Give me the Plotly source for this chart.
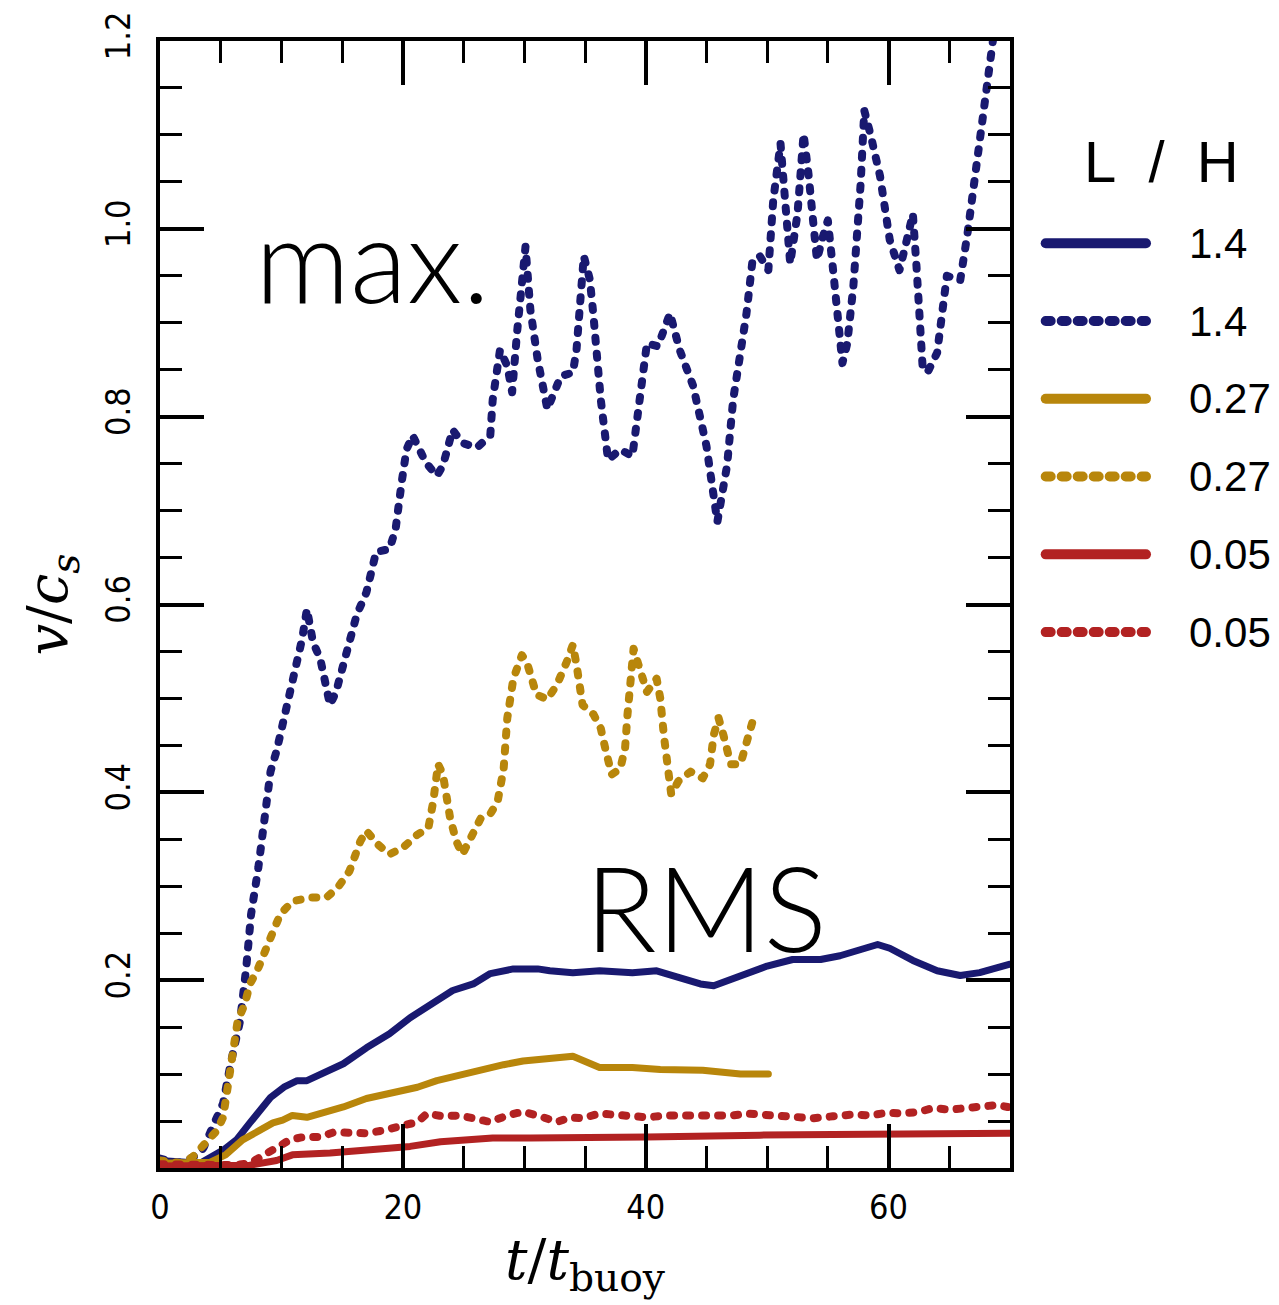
import plotly.graph_objects as go

# ---------------- data ----------------
t_max_14 = [0, 1.4, 2.2, 3.3, 3.6, 5.2, 5.8, 6.6, 7.1, 7.5, 8.1, 8.6, 8.9, 9.1, 9.6, 10.1, 10.7,
            11.3, 11.7, 12.1, 12.6, 13.2, 14.0, 14.5, 15.6, 16.2, 17.0, 17.8, 18.9, 19.4, 19.9,
            20.3, 20.8, 21.9, 22.8, 23.3, 24.1, 24.9, 26.1, 27.2, 27.4, 28.0, 28.6, 29.0, 29.4,
            30.1, 30.5, 31.1, 31.9, 33.0, 34.0, 34.3, 34.9, 35.4, 35.7, 36.3, 36.9, 37.9, 38.9,
            40.1, 41.0, 42.0, 42.8, 43.9, 45.0, 45.9, 46.7, 47.2, 47.8, 48.3, 48.8, 49.4, 50.1,
            50.5, 51.1, 51.6, 51.9, 52.5, 53.0, 53.4, 53.8, 54.1, 54.6, 55.0, 55.4, 56.0, 56.2,
            56.6, 57.1, 57.7, 58.0, 58.5, 59.3, 60.1, 60.9, 61.5, 62.0, 62.3, 62.8, 63.2, 64.0,
            64.8, 65.9, 66.5, 67.3, 68.1, 68.5, 69.2]
v_max_14 = [0.010, 0.005, 0.008, 0.016, 0.022, 0.069, 0.110, 0.157, 0.213, 0.270, 0.320, 0.372,
            0.408, 0.422, 0.444, 0.472, 0.507, 0.532, 0.563, 0.595, 0.560, 0.542, 0.493, 0.507,
            0.557, 0.589, 0.613, 0.656, 0.659, 0.680, 0.730, 0.765, 0.780, 0.751, 0.737, 0.748,
            0.786, 0.772, 0.767, 0.780, 0.818, 0.871, 0.854, 0.826, 0.889, 0.981, 0.914, 0.861,
            0.808, 0.843, 0.847, 0.871, 0.971, 0.946, 0.907, 0.818, 0.754, 0.765, 0.758, 0.878,
            0.875, 0.910, 0.871, 0.833, 0.769, 0.688, 0.748, 0.818, 0.868, 0.910, 0.967, 0.971,
            0.956, 1.030, 1.091, 1.013, 0.963, 1.016, 1.101, 1.059, 1.003, 0.967, 0.992, 1.009,
            0.960, 0.878, 0.857, 0.878, 0.939, 1.048, 1.126, 1.101, 1.056, 0.988, 0.956, 0.988,
            1.016, 0.960, 0.854, 0.847, 0.868, 0.950, 0.945, 0.995, 1.073, 1.151, 1.197, 1.260]

t_max_027 = [0, 1.9, 2.7, 3.8, 4.7, 5.2, 5.6, 6.0, 6.4, 7.0, 7.4, 8.0, 8.5, 9.1, 9.9, 10.9, 12.4,
             13.7, 14.6, 15.6, 16.5, 17.0, 17.9, 18.9, 20.0, 21.2, 22.1, 22.5, 22.9, 23.3, 23.9,
             24.4, 24.9, 25.5, 26.4, 27.2, 27.8, 28.3, 28.6, 29.1, 29.8, 30.2, 31.0, 31.9, 32.7,
             33.5, 34.0, 34.3, 34.8, 35.7, 36.3, 36.7, 37.2, 37.9, 38.3, 38.5, 38.7, 39.0, 39.4,
             39.8, 40.1, 40.9, 41.2, 41.5, 41.8, 42.1, 42.7, 43.7, 44.7, 45.3, 45.6, 46.0, 46.4,
             46.7, 47.0, 47.8, 48.2, 48.6, 48.9]
v_max_027 = [0.008, 0.005, 0.012, 0.027, 0.040, 0.054, 0.090, 0.125, 0.157, 0.175, 0.196, 0.210,
             0.228, 0.245, 0.270, 0.284, 0.288, 0.288, 0.298, 0.316, 0.348, 0.359, 0.345, 0.334,
             0.341, 0.355, 0.362, 0.390, 0.430, 0.419, 0.372, 0.348, 0.334, 0.351, 0.372, 0.377,
             0.390, 0.425, 0.479, 0.521, 0.546, 0.539, 0.504, 0.499, 0.515, 0.539, 0.557, 0.536,
             0.493, 0.483, 0.468, 0.445, 0.419, 0.425, 0.447, 0.483, 0.518, 0.553, 0.536, 0.518,
             0.507, 0.521, 0.500, 0.460, 0.430, 0.398, 0.412, 0.422, 0.415, 0.430, 0.461, 0.479,
             0.461, 0.444, 0.430, 0.430, 0.447, 0.465, 0.480]

t_rms_14 = [0, 3.3, 5.2, 6.3, 7.4, 9.1, 10.2, 11.3, 12.1, 13.4, 15.1, 17.0, 18.9, 20.6, 22.5,
            24.1, 25.8, 27.2, 29.1, 31.1, 32.1, 34.0, 36.2, 38.9, 40.9, 42.6, 44.5, 45.6, 47.2,
            50.0, 52.1, 54.4, 56.0, 57.7, 59.1, 60.1, 62.0, 64.0, 65.9, 67.5, 68.9, 70.0]
v_rms_14 = [0.008, 0.005, 0.019, 0.030, 0.048, 0.075, 0.086, 0.093, 0.093, 0.100, 0.111, 0.128,
            0.143, 0.160, 0.175, 0.189, 0.196, 0.207, 0.212, 0.212, 0.210, 0.208, 0.210, 0.208,
            0.210, 0.203, 0.196, 0.194, 0.201, 0.215, 0.222, 0.222, 0.226, 0.233, 0.238, 0.234,
            0.221, 0.210, 0.205, 0.208, 0.213, 0.217]

t_rms_027 = [0, 4.1, 5.4, 6.8, 8.2, 9.3, 10.1, 10.9, 12.1, 13.7, 15.1, 17.0, 18.4, 20.0, 21.2,
             22.8, 24.7, 26.6, 28.3, 29.9, 31.3, 32.1, 34.0, 36.2, 38.9, 41.2, 44.7, 47.8, 50.1]
v_rms_027 = [0.005, 0.006, 0.014, 0.030, 0.040, 0.048, 0.051, 0.056, 0.054, 0.059, 0.065, 0.074,
             0.078, 0.083, 0.086, 0.093, 0.099, 0.106, 0.110, 0.114, 0.116, 0.116, 0.119, 0.107,
             0.107, 0.105, 0.104, 0.100, 0.100]

t_rms_005 = [0, 7.4, 9.6, 10.9, 14.0, 15.6, 18.4, 20.6, 23.1, 25.5, 27.4, 30.5, 34.3, 40.1, 49.4,
             60.4, 70.0]
v_rms_005 = [0.002, 0.003, 0.008, 0.014, 0.016, 0.018, 0.022, 0.023, 0.028, 0.031, 0.032, 0.032,
             0.033, 0.033, 0.035, 0.036, 0.037]

t_max_005 = [0, 6.0, 7.4, 8.5, 9.6, 10.7, 11.8, 13.2, 14.3, 15.6, 17.0, 18.4, 20.0, 21.2, 22.0,
             23.3, 24.7, 26.1, 27.2, 28.6, 29.9, 31.3, 32.7, 33.8, 34.8, 36.2, 38.5, 40.1, 41.8,
             43.4, 45.3, 47.2, 48.3, 50.2, 52.1, 53.8, 55.4, 57.1, 58.5, 59.9, 61.2, 62.6, 63.7,
             65.0, 66.5, 67.8, 68.9, 69.8]
v_max_005 = [0.004, 0.003, 0.005, 0.014, 0.022, 0.030, 0.033, 0.033, 0.038, 0.037, 0.037, 0.040,
             0.044, 0.049, 0.058, 0.055, 0.056, 0.051, 0.049, 0.056, 0.060, 0.055, 0.049, 0.054,
             0.053, 0.058, 0.056, 0.054, 0.056, 0.056, 0.054, 0.056, 0.058, 0.056, 0.054, 0.053,
             0.055, 0.057, 0.056, 0.059, 0.058, 0.060, 0.064, 0.062, 0.064, 0.065, 0.067, 0.065]

legend_labels = ["1.4", "1.4", "0.27", "0.27", "0.05", "0.05"]
x_tick_vals = [0, 20, 40, 60]
y_tick_vals = [0.2, 0.4, 0.6, 0.8, 1.0, 1.2]

NAVY = "#191970"
GOLD = "#b8860b"
RED = "#b22222"
DOT = "4px,12px"
LEG_DOT = "5px,11px"

series = [
    (t_rms_14, v_rms_14, NAVY, "solid"),
    (t_max_14, v_max_14, NAVY, "dot"),
    (t_rms_027, v_rms_027, GOLD, "solid"),
    (t_max_027, v_max_027, GOLD, "dot"),
    (t_rms_005, v_rms_005, RED, "solid"),
    (t_max_005, v_max_005, RED, "dot"),
]

fig = go.Figure()
for (t, v, c, d), lab in zip(series, legend_labels):
    fig.add_trace(go.Scatter(x=t, y=v, mode="lines", name=lab,
                             line=dict(color=c, dash=(DOT if d == "dot" else "solid"),
                                       width=(8 if d == "dot" else 7)),
                             showlegend=False, hoverinfo="skip"))

# manual legend (long line samples as in the reference)
leg_y0 = 0.8205
leg_dy = 0.0690
for i, ((t, v, c, d), lab) in enumerate(zip(series, legend_labels)):
    yy = leg_y0 - i * leg_dy
    fig.add_shape(type="line", xref="paper", yref="paper", x0=1.042, x1=1.160, y0=yy, y1=yy,
                  line=dict(color=c, width=10, dash=(LEG_DOT if d == "dot" else "solid")))
    fig.add_annotation(x=1.208, y=yy, xref="paper", yref="paper", text=lab, showarrow=False,
                       xanchor="left", yanchor="middle",
                       font=dict(family="Liberation Sans", size=42, color="black"))
fig.add_annotation(x=1.178, y=0.893, xref="paper", yref="paper",
                   text="L&nbsp;&nbsp;/&nbsp;&nbsp;H", showarrow=False,
                   xanchor="center", yanchor="middle",
                   font=dict(family="Liberation Sans", size=58, color="black"))

# in-plot labels
fig.add_annotation(x=17.5, y=0.970, text="max.", showarrow=False, xanchor="center", yanchor="middle",
                   font=dict(family="Lato", size=118, color="black", weight=300))
fig.add_annotation(x=45.0, y=0.278, text="RMS", showarrow=False, xanchor="center", yanchor="middle",
                   font=dict(family="Lato", size=118, color="black", weight=300))

axis_common = dict(showline=True, linecolor="black", linewidth=4, mirror="ticks",
                   ticks="inside", ticklen=44, tickwidth=4, tickcolor="black",
                   showgrid=False, zeroline=False)

fig.update_xaxes(range=[0, 70], tickvals=x_tick_vals, ticktext=[str(v) for v in x_tick_vals],
                 minor=dict(dtick=5, tick0=0, ticks="inside", ticklen=22, tickwidth=3,
                            tickcolor="black", showgrid=False),
                 tickfont=dict(family="Liberation Sans Narrow, DejaVu Sans Condensed", size=34,
                               color="black"),
                 ticklabelstandoff=6,
                 title=dict(text="<i>t</i>/<i>t</i><sub>buoy</sub>",
                            font=dict(family="DejaVu Serif", size=56, color="black"), standoff=14),
                 **axis_common)
fig.update_yaxes(range=[0, 1.2], tickvals=y_tick_vals, ticktext=["%.1f" % v for v in y_tick_vals],
                 tickangle=-90,
                 minor=dict(dtick=0.05, tick0=0, ticks="inside", ticklen=22, tickwidth=3,
                            tickcolor="black", showgrid=False),
                 tickfont=dict(family="Liberation Sans Narrow, DejaVu Sans Condensed", size=34,
                               color="black"),
                 ticklabelstandoff=12,
                 title=dict(text="<i>v</i>/<i>c</i><sub><i>s</i></sub>",
                            font=dict(family="DejaVu Serif", size=56, color="black"), standoff=14),
                 **axis_common)

fig.update_layout(width=1279, height=1305, autosize=False,
                  margin=dict(l=160, r=269, t=37, b=137, pad=0),
                  plot_bgcolor="white", paper_bgcolor="white")

post = """
function _rc(){document.querySelectorAll('path.js-line, .shapelayer path').forEach(function(p){p.style.strokeLinecap='round';p.style.strokeLinejoin='round';});}
_rc();
var gd=document.getElementById('{plot_id}');
if(gd && gd.on){gd.on('plotly_afterplot', _rc);}
setTimeout(_rc, 50);
"""
fig.write_html("out.html", post_script=post)
